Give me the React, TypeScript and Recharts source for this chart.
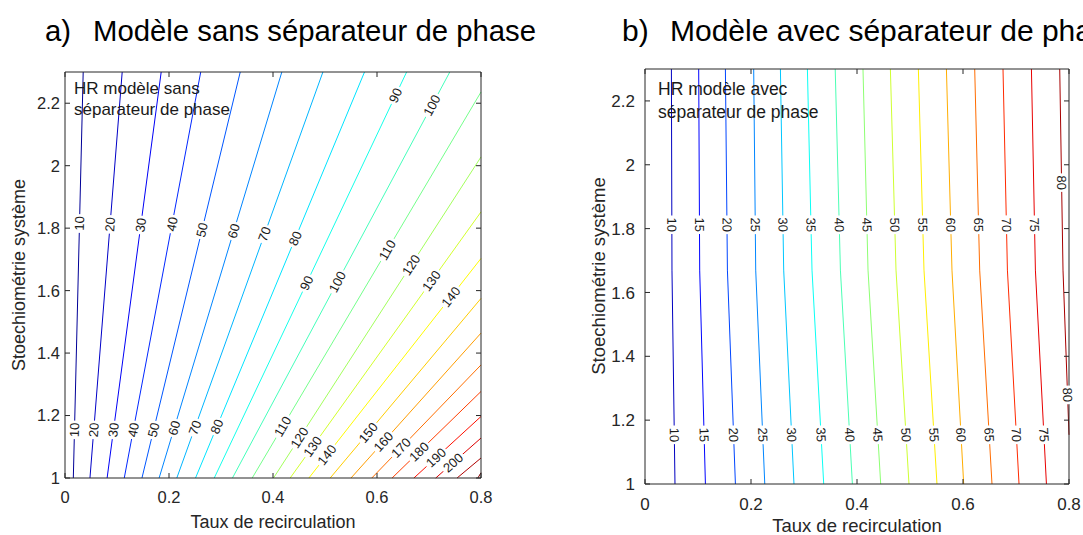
import { ComposedChart, Line, Scatter, XAxis, YAxis } from "recharts";

// a) Modèle sans séparateur de phase
const levelsA = [10, 20, 30, 40, 50, 60, 70, 80, 90, 100, 110, 120, 130, 140, 150, 160, 170, 180, 190, 200, 210, 220];
// x where each contour leaves the bottom edge (y = 1)
const startXA = [0.016, 0.048, 0.081, 0.114, 0.148, 0.181, 0.215, 0.251, 0.287, 0.322, 0.36, 0.401, 0.433, 0.469, 0.51, 0.55, 0.59, 0.629, 0.671, 0.713, 0.754, 0.794];
// where it leaves the box: top edge (y = 2.3) or right edge (x = 0.8)
const endXA = [0.035, 0.11, 0.185, 0.261, 0.337, 0.417, 0.496, 0.576, 0.657, 0.74, 0.8, 0.8, 0.8, 0.8, 0.8, 0.8, 0.8, 0.8, 0.8, 0.8, 0.8, 0.8];
const endYA = [2.3, 2.3, 2.3, 2.3, 2.3, 2.3, 2.3, 2.3, 2.3, 2.3, 2.236, 2.028, 1.852, 1.703, 1.575, 1.464, 1.362, 1.277, 1.197, 1.128, 1.064, 1.017];
const labelLevelsA = [10, 20, 30, 40, 50, 60, 70, 80, 110, 120, 130, 140, 150, 160, 170, 180, 190, 200,
  10, 20, 30, 40, 50, 60, 70, 80, 90, 100, 110, 120, 130, 140, 90, 100];
const labelYA = [1.154, 1.154, 1.154, 1.154, 1.154, 1.16, 1.161, 1.165, 1.165, 1.129, 1.101, 1.074, 1.145, 1.116, 1.097, 1.084, 1.065, 1.049,
  1.815, 1.812, 1.81, 1.813, 1.794, 1.791, 1.781, 1.767, 1.624, 1.628, 1.73, 1.682, 1.631, 1.58, 2.225, 2.193];

// b) Modèle avec séparateur de phase
const levelsB = [10, 15, 20, 25, 30, 35, 40, 45, 50, 55, 60, 65, 70, 75, 80];
const lowXB = [0.0566, 0.114, 0.1706, 0.226, 0.2811, 0.3372, 0.3913, 0.4447, 0.4981, 0.5509, 0.6013, 0.6547, 0.7057, 0.7574, 0.8];
const lowYB = [1, 1, 1, 1, 1, 1, 1, 1, 1, 1, 1, 1, 1, 1, 1.154];
const midYB = 1.67;
const midXB = [0.0509, 0.1032, 0.1555, 0.2089, 0.2617, 0.3151, 0.3687, 0.4208, 0.4736, 0.5264, 0.5792, 0.6315, 0.6838, 0.7366, 0.7887];
const topXB = [0.0498, 0.1013, 0.1517, 0.2051, 0.2555, 0.3064, 0.3589, 0.4113, 0.463, 0.5158, 0.5687, 0.6221, 0.6755, 0.7291, 0.7825];
const labelLevelsB = [10, 15, 20, 25, 30, 35, 40, 45, 50, 55, 60, 65, 70, 75, 80,
  10, 15, 20, 25, 30, 35, 40, 45, 50, 55, 60, 65, 70, 75, 80];
const labelYB = [1.154, 1.154, 1.154, 1.154, 1.154, 1.154, 1.154, 1.154, 1.154, 1.154, 1.154, 1.154, 1.154, 1.154, 1.279,
  1.812, 1.812, 1.812, 1.812, 1.812, 1.812, 1.812, 1.812, 1.812, 1.812, 1.812, 1.812, 1.812, 1.812, 1.944];

const xTicks = [0, 0.2, 0.4, 0.6, 0.8];
const yTicks = [1, 1.2, 1.4, 1.6, 1.8, 2, 2.2];

const FONT = "'Liberation Sans', Arial, Helvetica, sans-serif";
const AXIS = "#262626";

function jet(v: number, lo: number, hi: number) {
  const f = (v - lo) / (hi - lo);
  const c = (d: number) => Math.round(255 * Math.max(0, Math.min(1, 1.5 - Math.abs(4 * f - d))));
  return `rgb(${c(3)},${c(2)},${c(1)})`;
}

type Pt = { x: number; y: number };
type Contour = { level: number; points: Pt[] };

const linesA: Contour[] = levelsA.map((lv, i) => ({
  level: lv,
  points: [{ x: startXA[i], y: 1 }, { x: endXA[i], y: endYA[i] }],
}));

const linesB: Contour[] = levelsB.map((lv, i) => ({
  level: lv,
  points: [{ x: lowXB[i], y: lowYB[i] }, { x: midXB[i], y: midYB }, { x: topXB[i], y: 2.3 }],
}));

// put each label on its contour and turn it along the line (needs px per unit)
function makeLabels(lines: Contour[], lvls: number[], ys: number[], pxX: number, pxY: number) {
  return lvls.map((lv, k) => {
    const pts = lines.find((l) => l.level === lv)!.points;
    const y = ys[k];
    let j = 0;
    while (j < pts.length - 2 && y > pts[j + 1].y) j++;
    const a = pts[j];
    const b = pts[j + 1];
    const t = (y - a.y) / (b.y - a.y);
    let ang = (Math.atan2(-(b.y - a.y) * pxY, (b.x - a.x) * pxX) * 180) / Math.PI;
    if (ang < -90) ang += 180;
    return { x: a.x + t * (b.x - a.x), y, text: String(lv), ang };
  });
}

const labelsA = makeLabels(linesA, labelLevelsA, labelYA, 416 / 0.8, 406 / 1.3);
const labelsB = makeLabels(linesB, labelLevelsB, labelYB, 424 / 0.8, 415 / 1.3);

const ContourLabel = (props: any) => {
  const { cx, cy, payload } = props;
  const w = payload.text.length * 7.3 + 4;
  return (
    <g transform={`translate(${cx},${cy}) rotate(${payload.ang})`}>
      <rect x={-w / 2} y={-5.5} width={w} height={11} fill="#fff" />
      <text textAnchor="middle" dominantBaseline="central" fontSize={13} fill="#1a1a1a" fontFamily={FONT}>
        {payload.text}
      </text>
    </g>
  );
};

type PanelProps = {
  left: number;
  width: number;
  top: number;
  plotH: number;
  yAxisW: number;
  rightM: number;
  lines: Contour[];
  labels: any[];
  cmin: number;
  cmax: number;
  yGap: number;
  xDrop: number;
  fontSize: number;
};

function Panel(p: PanelProps) {
  const xH = 535 - p.top - p.plotH;
  const noTick = () => <g />;
  return (
    <div style={{ position: "absolute", left: p.left, top: 0 }}>
      <ComposedChart width={p.width} height={535} margin={{ top: p.top - 1, right: p.rightM - 1, bottom: 0, left: 0 }}>
        <XAxis
          type="number"
          dataKey="x"
          domain={[0, 0.8]}
          ticks={xTicks}
          interval={0}
          height={xH}
          tickSize={-5}
          tickMargin={5}
          axisLine={{ stroke: AXIS }}
          tickLine={{ stroke: AXIS }}
          tick={(t: any) => (
            <text x={t.x} y={t.y + p.xDrop} textAnchor="middle" fontSize={p.fontSize} fill={AXIS} fontFamily={FONT}>
              {String(t.payload.value)}
            </text>
          )}
        />
        <YAxis
          type="number"
          dataKey="y"
          domain={[1, 2.3]}
          ticks={yTicks}
          interval={0}
          width={p.yAxisW}
          tickSize={-5}
          tickMargin={5}
          axisLine={{ stroke: AXIS }}
          tickLine={{ stroke: AXIS }}
          tick={(t: any) => (
            <text x={t.x - p.yGap} y={t.y + p.fontSize * 0.36} textAnchor="end" fontSize={p.fontSize} fill={AXIS} fontFamily={FONT}>
              {String(t.payload.value)}
            </text>
          )}
        />
        <XAxis
          xAxisId="top"
          orientation="top"
          type="number"
          dataKey="x"
          domain={[0, 0.8]}
          ticks={xTicks}
          interval={0}
          height={1}
          tickSize={-5}
          tickMargin={0}
          axisLine={{ stroke: AXIS }}
          tickLine={{ stroke: AXIS }}
          tick={noTick}
        />
        <YAxis
          yAxisId="right"
          orientation="right"
          type="number"
          dataKey="y"
          domain={[1, 2.3]}
          ticks={yTicks}
          interval={0}
          width={1}
          tickSize={-5}
          tickMargin={0}
          axisLine={{ stroke: AXIS }}
          tickLine={{ stroke: AXIS }}
          tick={noTick}
        />
        {p.lines.map((l) => (
          <Line
            key={l.level}
            data={l.points}
            dataKey="y"
            type="linear"
            stroke={jet(l.level, p.cmin, p.cmax)}
            strokeWidth={1}
            dot={false}
            activeDot={false}
            isAnimationActive={false}
          />
        ))}
        <Line
          xAxisId="top"
          yAxisId="right"
          data={p.lines[0].points}
          dataKey="y"
          stroke="none"
          dot={false}
          activeDot={false}
          isAnimationActive={false}
        />
        <Scatter data={p.labels} shape={(s: any) => <ContourLabel {...s} />} isAnimationActive={false} />
      </ComposedChart>
    </div>
  );
}

export default function App() {
  return (
    <div
      style={{
        position: "absolute",
        left: 0,
        top: 0,
        width: 1083,
        height: 535,
        background: "#fff",
        overflow: "hidden",
      }}
    >
      <Panel
        left={0}
        width={541}
        top={72}
        plotH={406}
        yAxisW={65}
        rightM={60}
        lines={linesA}
        labels={labelsA}
        cmin={5}
        cmax={220}
        yGap={5}
        xDrop={25}
        fontSize={16.5}
      />
      <Panel
        left={560}
        width={523}
        top={69}
        plotH={415}
        yAxisW={85}
        rightM={14}
        lines={linesB}
        labels={labelsB}
        cmin={5}
        cmax={83}
        yGap={10}
        xDrop={25.5}
        fontSize={17}
      />
      <svg
        width={1083}
        height={535}
        style={{ position: "absolute", left: 0, top: 0, pointerEvents: "none" }}
        fontFamily={FONT}
      >
        <text x={45} y={41} fontSize={29.3} fill="#000">a)</text>
        <text x={93} y={41} fontSize={29.3} fill="#000">Modèle sans séparateur de phase</text>
        <text x={622} y={41} fontSize={30} fill="#000">b)</text>
        <text x={670} y={41} fontSize={30} fill="#000">Modèle avec séparateur de phase</text>

        <text x={74} y={93.5} fontSize={17} fill="#1a1a1a">HR modèle sans</text>
        <text x={74} y={114.5} fontSize={17} fill="#1a1a1a">séparateur de phase</text>
        <text x={658} y={95} fontSize={17.5} fill="#1a1a1a">HR modèle avec</text>
        <text x={658} y={117.5} fontSize={17.5} fill="#1a1a1a">séparateur de phase</text>

        <text x={273} y={528} fontSize={18} fill={AXIS} textAnchor="middle">Taux de recirculation</text>
        <text x={857} y={531.5} fontSize={18.5} fill={AXIS} textAnchor="middle">Taux de recirculation</text>
        <text x={25} y={275} fontSize={18} fill={AXIS} textAnchor="middle" transform="rotate(-90 25 275)">
          Stoechiométrie système
        </text>
        <text x={605} y={276} fontSize={18.5} fill={AXIS} textAnchor="middle" transform="rotate(-90 605 276)">
          Stoechiométrie système
        </text>
      </svg>
    </div>
  );
}
